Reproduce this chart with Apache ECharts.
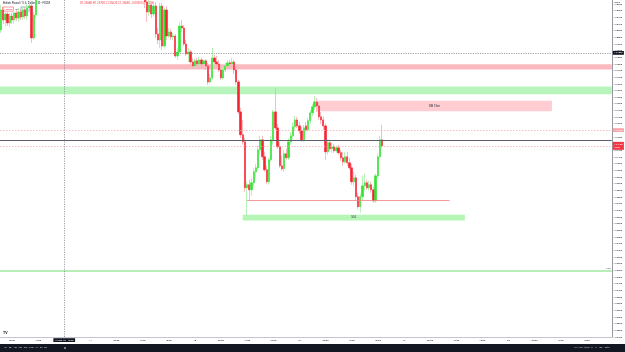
<!DOCTYPE html>
<html><head><meta charset="utf-8">
<script src="https://cdn.jsdelivr.net/npm/echarts@6/dist/echarts.min.js"></script>
<style>html,body{margin:0;padding:0;background:#fff}#c{width:625px;height:352px}</style>
</head><body><div id="c"></div>
<script>
// ---------- DATA ----------
const days = ['13', '14', '15', '18', '19', '20'];      // Sep 2023 session days
const firstSlotMinutes = 210;                            // slot 0 = 13 Sep 03:30
const slotMinutes = 30;
const slotCount = 281;
const timeTickEvery = 360;                               // a time label every 6 h

// [open, close, low, high]  GBP/USD 30 min
const candles = [
[1.25055,1.25205,1.25033,1.25242],[1.25205,1.25130,1.25100,1.25228],[1.25130,1.25175,1.25085,1.25205],
[1.25175,1.25108,1.25085,1.25198],[1.25108,1.25160,1.25078,1.25183],[1.25160,1.25130,1.25100,1.25183],
[1.25130,1.25183,1.25100,1.25213],[1.25183,1.25145,1.25123,1.25205],[1.25145,1.25190,1.25115,1.25220],
[1.25190,1.25153,1.25130,1.25213],[1.25153,1.25205,1.25130,1.25235],[1.25205,1.25160,1.25138,1.25228],
[1.25160,1.25220,1.25130,1.25250],[1.25220,1.25235,1.25190,1.25265],[1.25235,1.24995,1.24958,1.25258],
[1.24995,1.25168,1.24980,1.25190],[1.25168,1.25325,1.25145,1.25393],
[1.25325,1.25430,1.25300,1.25455],[1.25430,1.25390,1.25360,1.25470],[1.25390,1.25480,1.25370,1.25510],
[1.25480,1.25455,1.25430,1.25520],[1.25455,1.25530,1.25440,1.25560],[1.25530,1.25500,1.25470,1.25575],
[1.25500,1.25560,1.25490,1.25590],[1.25560,1.25620,1.25540,1.25650],[1.25620,1.25585,1.25560,1.25640],
[1.25585,1.25640,1.25570,1.25670],[1.25640,1.25610,1.25590,1.25660],[1.25610,1.25680,1.25600,1.25710],
[1.25680,1.25650,1.25620,1.25700],[1.25650,1.25700,1.25630,1.25730],[1.25700,1.25740,1.25680,1.25770],
[1.25740,1.25705,1.25690,1.25760],[1.25705,1.25760,1.25690,1.25790],[1.25760,1.25725,1.25700,1.25780],
[1.25725,1.25680,1.25660,1.25740],[1.25680,1.25710,1.25650,1.25730],[1.25710,1.25660,1.25640,1.25720],
[1.25660,1.25690,1.25640,1.25720],[1.25690,1.25640,1.25620,1.25700],[1.25640,1.25610,1.25590,1.25660],
[1.25610,1.25650,1.25600,1.25670],[1.25650,1.25600,1.25580,1.25660],[1.25600,1.25630,1.25585,1.25650],
[1.25630,1.25580,1.25560,1.25640],[1.25580,1.25610,1.25560,1.25630],[1.25610,1.25560,1.25540,1.25620],
[1.25560,1.25590,1.25540,1.25610],[1.25590,1.25540,1.25520,1.25600],[1.25540,1.25520,1.25490,1.25560],
[1.25520,1.25555,1.25500,1.25570],[1.25555,1.25500,1.25480,1.25570],[1.25500,1.25530,1.25480,1.25550],
[1.25530,1.25480,1.25460,1.25540],[1.25480,1.25505,1.25450,1.25520],[1.25505,1.25460,1.25440,1.25520],
[1.25460,1.25490,1.25440,1.25510],[1.25490,1.25440,1.25420,1.25500],[1.25440,1.25465,1.25420,1.25480],
[1.25465,1.25420,1.25400,1.25480],[1.25420,1.25450,1.25395,1.25470],[1.25450,1.25400,1.25380,1.25460],
[1.25400,1.25430,1.25370,1.25450],[1.25430,1.25380,1.25350,1.25440],[1.25380,1.25400,1.25340,1.25420],
[1.25400,1.25360,1.25320,1.25410],
[1.25340,1.25265,1.25220,1.25370],[1.25265,1.25190,1.25115,1.25295],[1.25190,1.25243,1.25160,1.25280],
[1.25243,1.25175,1.25145,1.25265],[1.25175,1.25235,1.25153,1.25258],[1.25235,1.25025,1.24995,1.25265],
[1.25025,1.24980,1.24950,1.25070],[1.24980,1.25235,1.24920,1.25258],[1.25235,1.24935,1.24905,1.25258],
[1.24935,1.25205,1.24913,1.25220],[1.25205,1.25010,1.24980,1.25235],[1.25010,1.25040,1.24995,1.25070],
[1.25040,1.25003,1.24980,1.25063],[1.25003,1.25010,1.24980,1.25033],[1.25010,1.24860,1.24845,1.25025],
[1.24860,1.24890,1.24830,1.24920],[1.24890,1.25085,1.24875,1.25115],[1.25085,1.25070,1.25040,1.25130],
[1.25070,1.24950,1.24935,1.25093],[1.24950,1.24875,1.24860,1.24980],[1.24875,1.24890,1.24815,1.24920],
[1.24890,1.24815,1.24793,1.24905],[1.24815,1.24785,1.24770,1.24845],[1.24785,1.24823,1.24770,1.24838],
[1.24823,1.24800,1.24785,1.24845],[1.24800,1.24830,1.24785,1.24853],[1.24830,1.24800,1.24778,1.24845],
[1.24800,1.24823,1.24778,1.24830],[1.24823,1.24785,1.24755,1.24838],[1.24785,1.24665,1.24643,1.24808],
[1.24665,1.24695,1.24650,1.24725],[1.24695,1.24845,1.24680,1.24920],[1.24845,1.24815,1.24800,1.24868],
[1.24815,1.24800,1.24785,1.24860],[1.24800,1.24755,1.24740,1.24830],[1.24755,1.24695,1.24680,1.24785],
[1.24695,1.24755,1.24680,1.24770],[1.24755,1.24785,1.24740,1.24808],[1.24785,1.24808,1.24770,1.24830],
[1.24808,1.24800,1.24785,1.24830],[1.24800,1.24815,1.24785,1.24845],[1.24815,1.24755,1.24725,1.24830],
[1.24755,1.24665,1.24643,1.24785],[1.24665,1.24440,1.24425,1.24680],[1.24440,1.24268,1.24245,1.24470],
[1.24268,1.24215,1.24193,1.24380],[1.24215,1.23870,1.23840,1.24245],[1.23870,1.23893,1.23660,1.23915],
[1.23893,1.23855,1.23780,1.23930],[1.23855,1.23908,1.23810,1.23945],[1.23908,1.23990,1.23885,1.24020],
[1.23990,1.24020,1.23945,1.24050],[1.24020,1.24155,1.24005,1.24185],[1.24155,1.24230,1.24118,1.24260],
[1.24230,1.24103,1.24080,1.24260],[1.24103,1.24005,1.23990,1.24140],[1.24005,1.23915,1.23900,1.24035],
[1.23915,1.24080,1.23893,1.24095],[1.24080,1.24230,1.24065,1.24260],[1.24230,1.24440,1.24193,1.24455],
[1.24440,1.24320,1.24305,1.24620],[1.24320,1.24178,1.24163,1.24350],[1.24178,1.24035,1.24020,1.24215],
[1.24035,1.24013,1.23998,1.24110],[1.24013,1.24125,1.23990,1.24155],[1.24125,1.24095,1.24080,1.24163],
[1.24095,1.24215,1.24080,1.24245],[1.24215,1.24260,1.24193,1.24290],[1.24260,1.24328,1.24238,1.24358],
[1.24328,1.24380,1.24305,1.24410],[1.24380,1.24335,1.24320,1.24403],[1.24335,1.24298,1.24275,1.24365],
[1.24298,1.24230,1.24215,1.24328],[1.24230,1.24320,1.24215,1.24343],[1.24335,1.24305,1.24290,1.24365],
[1.24305,1.24373,1.24290,1.24395],[1.24373,1.24433,1.24350,1.24455],[1.24433,1.24478,1.24410,1.24500],
[1.24478,1.24515,1.24455,1.24560],[1.24515,1.24485,1.24440,1.24545],[1.24485,1.24403,1.24380,1.24508],
[1.24403,1.24380,1.24350,1.24440],[1.24380,1.24335,1.24305,1.24403],[1.24335,1.24140,1.24080,1.24350],
[1.24140,1.24208,1.24118,1.24230],[1.24208,1.24163,1.24148,1.24230],[1.24163,1.24178,1.24133,1.24208],
[1.24178,1.24148,1.24133,1.24200],[1.24148,1.24170,1.24133,1.24185],[1.24170,1.24133,1.24118,1.24193],
[1.24133,1.24095,1.24073,1.24155],[1.24095,1.24065,1.24035,1.24140],[1.24065,1.24103,1.24050,1.24140],
[1.24103,1.24058,1.24035,1.24140],[1.24058,1.24020,1.24005,1.24095],[1.24020,1.23915,1.23893,1.24050],
[1.23915,1.23945,1.23885,1.23990],[1.23945,1.23803,1.23780,1.23968],[1.23803,1.23728,1.23713,1.23833],
[1.23728,1.23803,1.23683,1.23825],[1.23803,1.23885,1.23780,1.23960],[1.23885,1.23908,1.23848,1.23975],
[1.23908,1.23870,1.23855,1.23930],[1.23870,1.23893,1.23848,1.23923],[1.23893,1.23855,1.23833,1.23915],
[1.23855,1.23773,1.23758,1.23878],[1.23773,1.23960,1.23758,1.23975],[1.23960,1.24103,1.23945,1.24125],
[1.24103,1.24230,1.24088,1.24260],[1.24230,1.24185,1.24170,1.24343]
];

const priceAxis = { min: 1.2275, max: 1.2528, step: 0.0005 };
const crosshair = { slot: 29, price: 1.24883 };
const redZone = [1.24797, 1.24759];
const greenZone = [1.24630, 1.24573];
const obBox = { from: 145, to: 253, top: 1.24523, bottom: 1.24444, text: 'OB 15m' };
const keyLevel = 1.24226;
const bidLevel = 1.24303;
const sslLine = { from: 113, to: 206, price: 1.23778 };
const sslBox = { from: 111, to: 213, top: 1.23668, bottom: 1.23625, text: 'SSL' };
const lowLine = { price: 1.23248, text: 'PWL' };
const countdown = '15:09';
const clockText = '19:14:51 (UTC+4)';
const symbolTitle = 'British Pound / U.S. Dollar · 30 · FXCM';
const rangeButtons = ['1D', '5D', '1M', '3M', '6M', 'YTD', '1Y', '5Y', 'All'];

// ---------- BUILD ----------
const pad = n => String(n).padStart(2, '0');
const categories = [];
const slotMins = [];
for (let i = 0; i < slotCount; i++) {
  const t = firstSlotMinutes + i * slotMinutes;
  const d = Math.floor(t / 1440), m = t % 1440;
  slotMins.push(m);
  categories.push(days[d] + " Sep '23   " + pad(Math.floor(m / 60)) + ':' + pad(m % 60));
}
const bodies = candles.map(c => [c[0], c[1], Math.min(c[0], c[1]), Math.max(c[0], c[1])]);
const last = candles[candles.length - 1];
const lastPrice = last[1];
const cc = candles[crosshair.slot], prevC = candles[crosshair.slot - 1][1];
const chg = cc[1] - prevC;
const legendText = 'O' + cc[0].toFixed(5) + ' H' + cc[3].toFixed(5) + ' L' + cc[2].toFixed(5) +
  ' C' + cc[1].toFixed(5) + ' ' + (chg < 0 ? '−' : '+') + Math.abs(chg).toFixed(5) +
  ' (' + (chg < 0 ? '−' : '+') + Math.abs(chg / prevC * 100).toFixed(2) + '%)';

const FONT = 'Roboto, "Liberation Sans", sans-serif';
const UP = '#2fe62f', DOWN = '#f7222f';
const badge = (bg, fg) => ({ show: true, position: 'end', distance: 1, backgroundColor: bg, color: fg,
  fontSize: 2.4, padding: [0.9, 1.2], fontFamily: FONT });

const chart = echarts.init(document.getElementById('c'), null, { renderer: 'canvas' });
chart.setOption({
  animation: false,
  backgroundColor: '#ffffff',
  textStyle: { fontFamily: FONT },
  grid: { left: 0, right: 13, top: 0, bottom: 15, containLabel: false },
  xAxis: {
    type: 'category', data: categories, boundaryGap: true,
    axisLine: { show: true, lineStyle: { color: '#c3c6cc', width: 1 } },
    axisTick: { show: false }, splitLine: { show: false },
    axisLabel: {
      interval: (i) => slotMins[i] % timeTickEvery === 0,
      formatter: (v, i) => slotMins[i] === 0 ? days[Math.floor((firstSlotMinutes + i * slotMinutes) / 1440)] : v.slice(-5),
      fontSize: 2.4, color: '#131722', margin: 2.2
    }
  },
  yAxis: {
    type: 'value', position: 'right', min: priceAxis.min, max: priceAxis.max, interval: priceAxis.step,
    axisLine: { show: true, lineStyle: { color: '#9598a1', width: 1 } },
    axisTick: { show: false }, splitLine: { show: false },
    axisLabel: { fontSize: 2.4, color: '#131722', margin: 1.5, showMaxLabel: false,
      formatter: v => v.toFixed(5) }
  },
  series: [
    {
      type: 'line', data: [], z: 1, silent: true,
      markArea: {
        silent: true,
        data: [
          [{ yAxis: redZone[0], itemStyle: { color: '#f9b9be' } }, { yAxis: redZone[1] }],
          [{ yAxis: greenZone[0], itemStyle: { color: '#b8f5bd' } }, { yAxis: greenZone[1] }],
          [{ xAxis: categories[obBox.from], yAxis: obBox.top, itemStyle: { color: '#ffccd1' },
             label: { show: true, position: 'inside', formatter: obBox.text, fontSize: 3.2, color: '#2a2e39' } },
           { xAxis: categories[obBox.to], yAxis: obBox.bottom }],
          [{ xAxis: categories[sslBox.from], yAxis: sslBox.top, itemStyle: { color: '#b5f5b5' },
             label: { show: true, position: 'inside', formatter: sslBox.text, fontSize: 3, color: '#2a2e39' } },
           { xAxis: categories[sslBox.to], yAxis: sslBox.bottom }]
        ]
      },
      markLine: {
        silent: true, symbol: ['none', 'none'], z: 5, precision: 5,
        label: { show: false },
        data: [
          { yAxis: keyLevel, lineStyle: { color: '#5d606b', width: 1, type: 'solid' }, label: { show: false } },
          { yAxis: lowLine.price, lineStyle: { color: '#9ee89e', width: 1.6, type: 'solid' },
            label: { show: true, position: 'insideEndTop', formatter: lowLine.text, fontSize: 2.2, color: '#2a2e39', distance: 1 } },
          [{ coord: [categories[sslLine.from], sslLine.price], lineStyle: { color: '#f28080', width: 0.8, type: 'solid' } },
           { coord: [categories[sslLine.to], sslLine.price] }]
        ]
      }
    },
    {
      type: 'candlestick', data: candles, z: 2, clip: true, barWidth: 1.8,
      itemStyle: { color: '#bdf3bd', color0: '#fbc0c5', borderColor: '#a6eea6', borderColor0: '#f8a9b0', borderWidth: 0.8 }
    },
    {
      type: 'candlestick', data: bodies, z: 3, clip: true, barWidth: 1.8,
      itemStyle: { color: UP, color0: DOWN, borderColor: UP, borderColor0: DOWN, borderWidth: 0.4 },
      markLine: {
        silent: true, symbol: ['none', 'none'], z: 6, precision: 5,
        data: [
          { yAxis: bidLevel, lineStyle: { color: '#f7a5ab', width: 0.7, type: [1.5, 1.5] },
            label: Object.assign(badge('#f7a1a8', '#ffffff'), { formatter: bidLevel.toFixed(5) }) },
          { yAxis: lastPrice, lineStyle: { color: '#f7a5ab', width: 0.7, type: [1.5, 1.5] },
            label: Object.assign(badge('#f23645', '#ffffff'), { formatter: lastPrice.toFixed(5) + '\n' + countdown, lineHeight: 3, padding: [1, 1.2] }) },
          { yAxis: crosshair.price, lineStyle: { color: '#787b86', width: 0.7, type: [1.2, 1.2] },
            label: Object.assign(badge('#131722', '#ffffff'), { formatter: crosshair.price.toFixed(5) }) },
          { xAxis: categories[crosshair.slot], lineStyle: { color: '#787b86', width: 0.7, type: [1.2, 1.2] },
            label: { show: true, position: 'start', distance: 1.2, backgroundColor: '#131722', color: '#ffffff',
              fontSize: 2.4, padding: [0.9, 1.5], formatter: categories[crosshair.slot] } }
        ]
      }
    }
  ],
  graphic: [
    { type: 'text', x: 3, y: 2, style: { text: symbolTitle, fontSize: 2.8, fill: '#131722', fontFamily: FONT, verticalAlign: 'top' } },
    { type: 'text', x: 80, y: 2, style: { text: legendText, fontSize: 2.8, fill: '#f23645', fontFamily: FONT, verticalAlign: 'top' } },
    { type: 'rect', shape: { x: 2.5, y: 7, width: 11, height: 4.2 }, style: { fill: '#ffffff', stroke: '#f23645', lineWidth: 0.5 } },
    { type: 'text', x: 3.6, y: 7.9, style: { text: cc[1].toFixed(5), fontSize: 2.5, fill: '#f23645', fontFamily: FONT, verticalAlign: 'top' } },
    { type: 'text', x: 15.5, y: 7.9, style: { text: '0.0', fontSize: 2.5, fill: '#131722', fontFamily: FONT, verticalAlign: 'top' } },
    { type: 'rect', shape: { x: 21, y: 7, width: 11, height: 4.2 }, style: { fill: '#ffffff', stroke: '#2962ff', lineWidth: 0.5 } },
    { type: 'text', x: 22.1, y: 7.9, style: { text: cc[1].toFixed(5), fontSize: 2.5, fill: '#2962ff', fontFamily: FONT, verticalAlign: 'top' } },
    { type: 'text', x: 614, y: 1, style: { text: 'USD ▾', fontSize: 2.4, fill: '#131722', fontFamily: FONT, verticalAlign: 'top' } },
    { type: 'text', x: 3, y: 331.5, style: { text: 'TV', fontSize: 3.6, fontWeight: 'bold', fill: '#131722', fontFamily: FONT, verticalAlign: 'top' } },
    { type: 'rect', shape: { x: 0, y: 344, width: 625, height: 8 }, style: { fill: '#131722' } },
    { type: 'text', x: 4, y: 346.8, style: { text: rangeButtons.join('   '), fontSize: 2.4, fill: '#d1d4dc', fontFamily: FONT, verticalAlign: 'top' } },
    { type: 'text', x: 64, y: 346.6, style: { text: '⧉', fontSize: 2.8, fill: '#d1d4dc', fontFamily: FONT, verticalAlign: 'top' } },
    { type: 'text', x: 574, y: 346.8, style: { text: clockText + '    %    log    auto', fontSize: 2.4, fill: '#d1d4dc', fontFamily: FONT, verticalAlign: 'top' } }
  ]
});
</script>
</body></html>
